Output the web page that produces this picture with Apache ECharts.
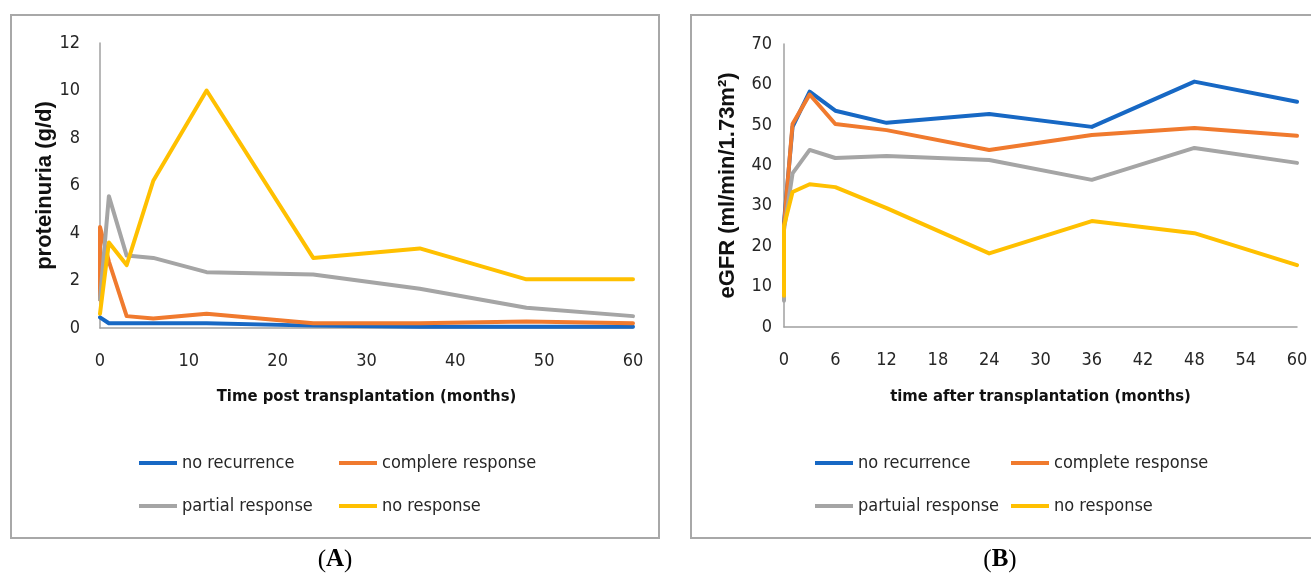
<!DOCTYPE html>
<html>
<head>
<meta charset="utf-8">
<script src="https://cdn.jsdelivr.net/npm/echarts@6/dist/echarts.min.js"></script>
<style>
html,body{margin:0;padding:0;background:#fff;}
#c{width:1311px;height:575px;}
</style>
</head>
<body>
<div id="c"></div>
<script>
// ---------- DATA ----------
// Panel A: proteinuria (g/d)
const monthsA = [0, 0, 1, 3, 6, 12, 24, 36, 48, 60];
const namesA = ['no recurrence', 'complere response', 'partial response', 'no response'];
const noRecurrenceA = [0.45, 0.45, 0.2, 0.2, 0.2, 0.2, 0.1, 0.05, 0.05, 0.05];
const completeRespA = [1.2, 4.25, 2.8, 0.5, 0.4, 0.6, 0.2, 0.2, 0.27, 0.2];
const partialRespA  = [1.2, 1.2, 5.55, 3.05, 2.95, 2.35, 2.25, 1.65, 0.85, 0.5];
const noResponseA   = [0.6, 0.6, 3.6, 2.65, 6.2, 10.0, 2.95, 3.35, 2.05, 2.05];
const xTicksA = [0, 10, 20, 30, 40, 50, 60];
const yTicksA = [0, 2, 4, 6, 8, 10, 12];

// Panel B: eGFR (ml/min/1.73m2)
const monthsB = [0, 0, 1, 3, 6, 12, 24, 36, 48, 60];
const namesB = ['no recurrence', 'complete response', 'partuial response', 'no response'];
const noRecurrenceB = [24, 26, 49.5, 58.2, 53.5, 50.5, 52.7, 49.5, 60.7, 55.7];
const completeRespB = [23, 25, 50.2, 57.5, 50.2, 48.7, 43.8, 47.5, 49.2, 47.3];
const partialRespB  = [6.5, 24, 38, 43.8, 41.8, 42.3, 41.3, 36.4, 44.3, 40.6];
const noResponseB   = [7.7, 25, 33.4, 35.3, 34.6, 29.4, 18.2, 26.2, 23.2, 15.3];
const xTicksB = [0, 6, 12, 18, 24, 30, 36, 42, 48, 54, 60];
const yTicksB = [0, 10, 20, 30, 40, 50, 60, 70];

// ---------- STYLE ----------
const colors = ['#1768C4', '#F07A2E', '#A5A5A5', '#FFC000'];
const narrow = "'Liberation Sans Narrow', 'DejaVu Sans Condensed', 'Liberation Sans', sans-serif";
const wide = "'Liberation Sans', Arial, sans-serif";
const textCol = '#262626';
const axisCol = '#A0A0A0';

function pairs(xs, ys) { return xs.map((x, i) => [x, ys[i]]); }

function mkX(idx, ticks, name, gap) {
  return {
    type: 'value', gridIndex: idx,
    min: ticks[0], max: ticks[ticks.length - 1], interval: ticks[1] - ticks[0],
    name: name, nameLocation: 'middle', nameGap: gap,
    nameTextStyle: { fontFamily: narrow, fontWeight: 'bold', fontSize: 16.5, color: '#111' },
    axisLine: { show: true, onZero: false, lineStyle: { color: axisCol, width: 1.5 } },
    axisTick: { show: false },
    axisLabel: { margin: 24, fontFamily: narrow, fontSize: 18, color: textCol },
    splitLine: { show: false }
  };
}
function mkY(idx, ticks, name, gap, margin) {
  return {
    type: 'value', gridIndex: idx,
    min: ticks[0], max: ticks[ticks.length - 1], interval: ticks[1] - ticks[0],
    name: name, nameLocation: 'middle', nameGap: gap,
    nameTextStyle: { fontFamily: wide, fontWeight: 'bold', fontSize: 22, color: '#111' },
    axisLine: { show: true, lineStyle: { color: axisCol, width: 1.5 } },
    axisTick: { show: false },
    axisLabel: { margin: margin, fontFamily: narrow, fontSize: 18, color: textCol },
    splitLine: { show: false }
  };
}
function mkSeries(name, idx, xs, ys, color) {
  return {
    type: 'line', name: name, xAxisIndex: idx, yAxisIndex: idx,
    data: pairs(xs, ys), showSymbol: false, symbol: 'none', smooth: false,
    lineStyle: { color: color, width: 4, join: 'round', cap: 'round' },
    itemStyle: { color: color }, animation: false
  };
}
function mkLegend(name, left, top) {
  return {
    data: [name], left: left, top: top, padding: 0, icon: 'rect',
    itemWidth: 38, itemHeight: 4, selectedMode: false,
    textStyle: { fontFamily: narrow, fontSize: 18, color: textCol }
  };
}

const chart = echarts.init(document.getElementById('c'), null, { renderer: 'canvas' });
chart.setOption({
  backgroundColor: '#fff',
  animation: false,
  grid: [
    { left: 100, top: 43, width: 533, height: 285 },
    { left: 784, top: 44, width: 513, height: 283 }
  ],
  xAxis: [
    mkX(0, xTicksA, 'Time post transplantation (months)', 60),
    mkX(1, xTicksB, 'time after transplantation (months)', 61)
  ],
  yAxis: [
    mkY(0, yTicksA, 'proteinuria (g/d)', 40, 20),
    mkY(1, yTicksB, 'eGFR (ml/min/1.73m²)', 45, 12)
  ],
  legend: [
    mkLegend(namesA[0], 139, 454), mkLegend(namesA[1], 339, 454),
    mkLegend(namesA[2], 139, 497), mkLegend(namesA[3], 339, 497),
    mkLegend(namesB[0], 815, 454), mkLegend(namesB[1], 1011, 454),
    mkLegend(namesB[2], 815, 497), mkLegend(namesB[3], 1011, 497)
  ],
  series: [
    mkSeries(namesA[0], 0, monthsA, noRecurrenceA, colors[0]),
    mkSeries(namesA[1], 0, monthsA, completeRespA, colors[1]),
    mkSeries(namesA[2], 0, monthsA, partialRespA, colors[2]),
    mkSeries(namesA[3], 0, monthsA, noResponseA, colors[3]),
    mkSeries(namesB[0], 1, monthsB, noRecurrenceB, colors[0]),
    mkSeries(namesB[1], 1, monthsB, completeRespB, colors[1]),
    mkSeries(namesB[2], 1, monthsB, partialRespB, colors[2]),
    mkSeries(namesB[3], 1, monthsB, noResponseB, colors[3])
  ],
  graphic: [
    { type: 'rect', shape: { x: 11, y: 15, width: 648, height: 523 },
      style: { fill: 'none', stroke: '#A8A8A8', lineWidth: 2 }, z: -1 },
    { type: 'rect', shape: { x: 691, y: 15, width: 660, height: 523 },
      style: { fill: 'none', stroke: '#A8A8A8', lineWidth: 2 }, z: -1 },
    { type: 'text', x: 335, y: 560,
      style: { text: '{p|(}{b|A}{p|)}', textAlign: 'center', textVerticalAlign: 'middle',
        rich: { p: { fontFamily: "'Liberation Serif', serif", fontSize: 25, color: '#000' },
                b: { fontFamily: "'Liberation Serif', serif", fontSize: 25, fontWeight: 'bold', color: '#000' } } } },
    { type: 'text', x: 1000, y: 560,
      style: { text: '{p|(}{b|B}{p|)}', textAlign: 'center', textVerticalAlign: 'middle',
        rich: { p: { fontFamily: "'Liberation Serif', serif", fontSize: 25, color: '#000' },
                b: { fontFamily: "'Liberation Serif', serif", fontSize: 25, fontWeight: 'bold', color: '#000' } } } }
  ]
});
</script>
</body>
</html>
